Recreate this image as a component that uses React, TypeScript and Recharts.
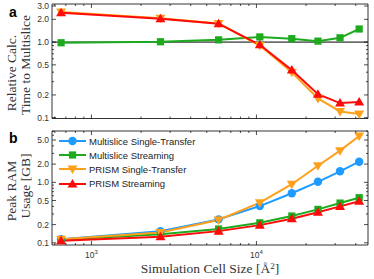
import React from 'react';
import { LineChart, Line, XAxis, YAxis, ReferenceLine } from 'recharts';

// Simulation cell sizes (Å^2), i.e. (25.6 * n)^2
const cellSizes = [655, 2621, 5898, 10486, 16384, 23593, 32113, 41943];

// Panel a: calc. time relative to multislice single-transfer
const msStreamRel = [0.98, 1.01, 1.07, 1.17, 1.11, 1.03, 1.14, 1.49];
const prismSingleRel = [2.5, 2.06, 1.76, 0.9, 0.4, 0.18, 0.121, 0.112];
const prismStreamRel = [2.45, 2.04, 1.75, 0.92, 0.426, 0.205, 0.156, 0.161];

// Panel b: peak RAM usage (GB)
const msSingleRam = [0.115, 0.155, 0.244, 0.405, 0.66, 1.02, 1.52, 2.19];
const msStreamRam = [0.112, 0.138, 0.169, 0.214, 0.277, 0.357, 0.454, 0.556];
const prismSingleRam = [0.115, 0.148, 0.238, 0.46, 0.93, 1.88, 3.34, 5.84];
const prismStreamRam = [0.108, 0.126, 0.156, 0.196, 0.25, 0.319, 0.4, 0.485];

// ticks
const xTicks = [600, 700, 800, 900, 1000, 2000, 3000, 4000, 5000, 6000, 7000, 8000, 9000, 10000, 20000, 30000, 40000];
const xLabels = [1000, 10000];
const yTicksA = [0.1, 0.2, 0.3, 0.4, 0.5, 0.6, 0.7, 0.8, 0.9, 1, 2, 3];
const yLabelsA = [0.1, 0.2, 0.5, 1, 2, 3];
const yTicksB = [0.1, 0.2, 0.3, 0.4, 0.5, 0.6, 0.7, 0.8, 0.9, 1, 2, 3, 4, 5, 6, 7];
const yLabelsB = [0.1, 0.2, 0.5, 1, 2, 5];

const BLUE = '#1e9bff';
const GREEN = '#1daa1d';
const ORANGE = '#ffa01a';
const RED = '#ff0a0a';

const dataA = cellSizes.map((s, i) => ({
  size: s,
  msStream: msStreamRel[i],
  prismSingle: prismSingleRel[i],
  prismStream: prismStreamRel[i],
}));

const dataB = cellSizes.map((s, i) => ({
  size: s,
  msSingle: msSingleRam[i],
  msStream: msStreamRam[i],
  prismSingle: prismSingleRam[i],
  prismStream: prismStreamRam[i],
}));

const series = [
  { key: 'msSingle', name: 'Multislice Single-Transfer', color: BLUE, shape: 'circle' },
  { key: 'msStream', name: 'Multislice Streaming', color: GREEN, shape: 'square' },
  { key: 'prismSingle', name: 'PRISM Single-Transfer', color: ORANGE, shape: 'down' },
  { key: 'prismStream', name: 'PRISM Streaming', color: RED, shape: 'up' },
];

const Marker = ({ cx, cy, shape, color }: any) => {
  if (cx == null || cy == null) return null;
  if (shape === 'circle') return <circle cx={cx} cy={cy} r={4.2} fill={color} />;
  if (shape === 'square') return <rect x={cx - 3.6} y={cy - 3.6} width={7.2} height={7.2} fill={color} />;
  if (shape === 'down')
    return <polygon points={`${cx - 5},${cy - 3.5} ${cx + 5},${cy - 3.5} ${cx},${cy + 5}`} fill={color} />;
  return <polygon points={`${cx - 5},${cy + 3.5} ${cx + 5},${cy + 3.5} ${cx},${cy - 5}`} fill={color} />;
};

const isMajor = (v: number) => [0.1, 1, 10, 1000, 10000].includes(v);
const tickFont = { fontFamily: '"Liberation Sans", Arial, sans-serif', fontSize: 8.5, fill: '#333' };

const leftTick = (labels: number[]) => (props: any) => {
  const { x, y, payload } = props;
  const v = payload.value;
  const len = labels.includes(v) ? 4 : 2;
  return (
    <g>
      <line x1={x} x2={x + len} y1={y} y2={y} stroke="#000" strokeWidth={0.7} />
      {labels.includes(v) && (
        <text x={x - 3} y={y} dy={3} textAnchor="end" {...tickFont}>
          {v.toFixed(1)}
        </text>
      )}
    </g>
  );
};

const rightTick = (labels: number[]) => (props: any) => {
  const { x, y, payload } = props;
  const len = labels.includes(payload.value) ? 4 : 2;
  return <line x1={x} x2={x - len} y1={y} y2={y} stroke="#000" strokeWidth={0.7} />;
};

const bottomTick = (showLabels: boolean) => (props: any) => {
  const { x, y, payload } = props;
  const v = payload.value;
  const len = isMajor(v) ? 4 : 2;
  return (
    <g>
      <line x1={x} x2={x} y1={y} y2={y - len} stroke="#000" strokeWidth={0.7} />
      {showLabels && xLabels.includes(v) && (
        <text x={x} y={y + 13} textAnchor="middle" {...tickFont}>
          10
          <tspan dy={-4} fontSize={6}>{Math.round(Math.log10(v))}</tspan>
        </text>
      )}
    </g>
  );
};

const topTick = (props: any) => {
  const { x, y, payload } = props;
  const len = isMajor(payload.value) ? 4 : 2;
  return <line x1={x} x2={x} y1={y} y2={y + len} stroke="#000" strokeWidth={0.7} />;
};

const xDomain = [577, 47440];
const axisLine = { stroke: '#000', strokeWidth: 0.8 };

// four axes forming a closed frame with inward ticks
const Frame = (yTicks: number[], yLabels: number[], yDomain: number[], showX: boolean) => [
  <XAxis
    key="xb"
    xAxisId="b"
    dataKey="size"
    type="number"
    scale="log"
    domain={xDomain}
    allowDataOverflow
    ticks={xTicks}
    height={1}
    tickSize={0}
    tickMargin={0}
    tickLine={false}
    interval={0}
    axisLine={axisLine}
    tick={bottomTick(showX)}
  />,
  <XAxis
    key="xt"
    xAxisId="t"
    dataKey="size"
    orientation="top"
    type="number"
    scale="log"
    domain={xDomain}
    allowDataOverflow
    ticks={xTicks}
    height={1}
    tickSize={0}
    tickMargin={0}
    tickLine={false}
    interval={0}
    axisLine={axisLine}
    tick={topTick}
  />,
  <YAxis
    key="yl"
    yAxisId="l"
    type="number"
    scale="log"
    domain={yDomain}
    allowDataOverflow
    ticks={yTicks}
    width={1}
    tickSize={0}
    tickMargin={0}
    tickLine={false}
    interval={0}
    axisLine={axisLine}
    tick={leftTick(yLabels)}
  />,
  <YAxis
    key="yr"
    yAxisId="r"
    orientation="right"
    type="number"
    scale="log"
    domain={yDomain}
    allowDataOverflow
    ticks={yTicks}
    width={1}
    tickSize={0}
    tickMargin={0}
    tickLine={false}
    interval={0}
    axisLine={axisLine}
    tick={rightTick(yLabels)}
  />,
];

const renderLine = (s: (typeof series)[number]) => (
  <Line
    key={s.key}
    xAxisId="b"
    yAxisId="l"
    dataKey={s.key}
    name={s.name}
    stroke={s.color}
    strokeWidth={2}
    isAnimationActive={false}
    dot={(p: any) => <Marker key={`${s.key}-${p.index}`} cx={p.cx} cy={p.cy} shape={s.shape} color={s.color} />}
    activeDot={false}
  />
);

const LegendBox = () => (
  <div
    style={{
      position: 'absolute',
      left: 59,
      top: 134,
      fontFamily: '"Liberation Sans", Arial, sans-serif',
      fontSize: 9.5,
      color: '#222',
    }}
  >
    {series.map((s) => (
      <div key={s.key} style={{ display: 'flex', alignItems: 'center', height: 14.2 }}>
        <svg width={28} height={12}>
          <line x1={0} x2={27} y1={6} y2={6} stroke={s.color} strokeWidth={2} />
          <Marker cx={13.5} cy={6} shape={s.shape} color={s.color} />
        </svg>
        <span style={{ marginLeft: 2, whiteSpace: 'nowrap' }}>{s.name}</span>
      </div>
    ))}
  </div>
);

const serif = '"Liberation Serif", "Times New Roman", serif';

const VText = ({ text, cx, cy }: { text: string; cx: number; cy: number }) => (
  <div
    style={{
      position: 'absolute',
      left: cx,
      top: cy,
      transform: 'translate(-50%, -50%) rotate(-90deg)',
      whiteSpace: 'nowrap',
      fontFamily: serif,
      fontSize: 13.5,
      color: '#333',
      lineHeight: 1,
    }}
  >
    {text}
  </div>
);

const panelLetter = {
  position: 'absolute' as const,
  fontFamily: '"Liberation Sans", Arial, sans-serif',
  fontWeight: 700,
  fontSize: 14,
  lineHeight: 1,
};

export default function App() {
  return (
    <div style={{ position: 'absolute', left: 0, top: 0, width: 374, height: 279, background: '#fff' }}>
      {/* Panel a */}
      <div style={{ position: 'absolute', left: 0, top: 0 }}>
        <LineChart width={374} height={125} data={dataA} margin={{ top: 3, right: 5, bottom: 5.5, left: 51 }}>
          {Frame(yTicksA, yLabelsA, [0.0976, 3.19], false)}
          <ReferenceLine xAxisId="b" yAxisId="l" y={1} stroke="#000" strokeWidth={1} />
          {series.slice(1).map(renderLine)}
        </LineChart>
      </div>

      {/* Panel b */}
      <div style={{ position: 'absolute', left: 0, top: 125 }}>
        <LineChart width={374} height={154} data={dataB} margin={{ top: 5, right: 5, bottom: 33, left: 51 }}>
          {Frame(yTicksB, yLabelsB, [0.092, 7.05], true)}
          {series.map(renderLine)}
        </LineChart>
      </div>

      <LegendBox />

      <div style={{ ...panelLetter, left: 9, top: 5 }}>a</div>
      <div style={{ ...panelLetter, left: 9, top: 131 }}>b</div>

      <VText text="Relative Calc." cx={12} cy={73} />
      <VText text="Time to Multislice" cx={26} cy={65} />
      <VText text="Peak RAM" cx={12} cy={191} />
      <VText text="Usage [GB]" cx={26} cy={186} />

      <div
        style={{
          position: 'absolute',
          left: 210,
          top: 269,
          transform: 'translate(-50%, -50%)',
          whiteSpace: 'nowrap',
          fontFamily: serif,
          fontSize: 13.5,
          color: '#333',
          lineHeight: 1,
        }}
      >
        Simulation Cell Size [Å<sup style={{ fontSize: 9, verticalAlign: 'top', lineHeight: 1 }}>2</sup>]
      </div>
    </div>
  );
}
